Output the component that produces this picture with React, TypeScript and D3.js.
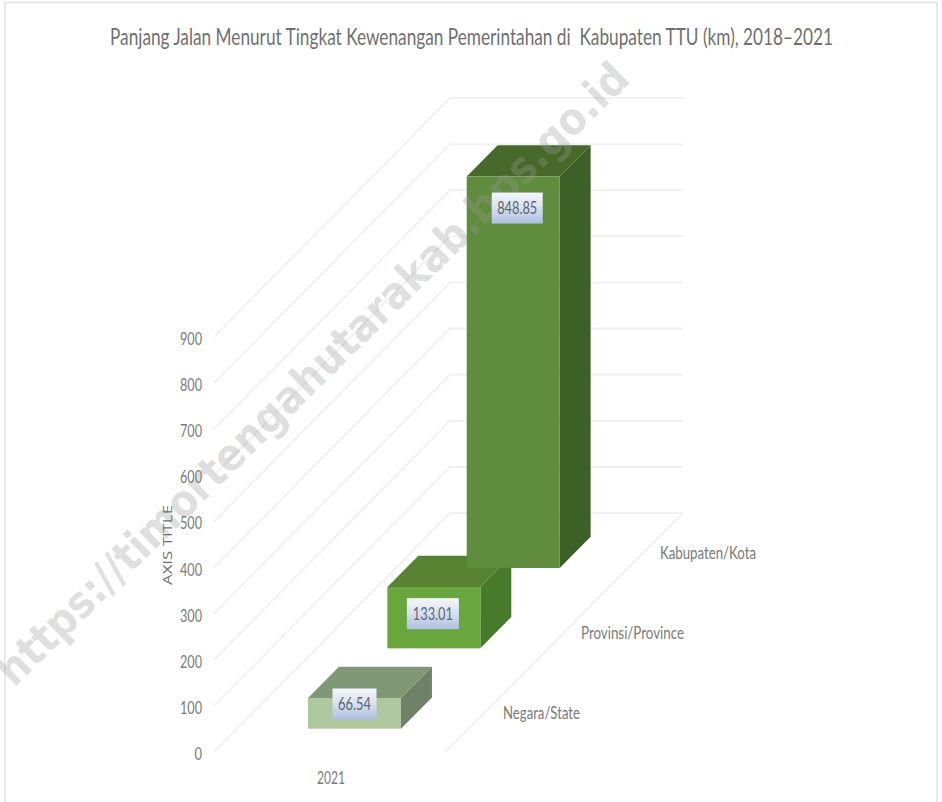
import React from "react";
import * as d3 from "d3";

const TITLE = "Panjang Jalan Menurut Tingkat Kewenangan Pemerintahan di  Kabupaten TTU (km), 2018–2021";
const WATERMARK = "https://timortengahutarakab.bps.go.id";
const AXIS_TITLE = "AXIS TITLE";
const CATEGORY = "2021";
const seriesNames = ["Negara/State", "Provinsi/Province", "Kabupaten/Kota"];
const seriesValues = [66.54, 133.01, 848.85];
const seriesLabels = ["66.54", "133.01", "848.85"];
const frontColors = ["#afc79f", "#69a63c", "#5e8c3c"];
const topColors = ["#7f9875", "#568231", "#466a2c"];
const sideColors = ["#6d8266", "#467a2c", "#3c6128"];
const yTicks = [0, 100, 200, 300, 400, 500, 600, 700, 800, 900];

const FONT = "Lato,'Open Sans',sans-serif";

export default function App() {
  const y = d3.scaleLinear().domain([0, 900]).range([0, 415]);
  const depth = d3.scaleLinear().domain([0, 1]).range([0, 236]);
  const yBase = 752;
  const xLeft = 214;
  const wallWidth = 233;
  const barDepth = 0.131;
  const barFront = d3.scaleLinear().domain([0, 2]).range([0.0975, 0.77]);
  const barW = 93;
  const barInset = 71;
  const px = (d: number) => depth(d);
  const py = (d: number) => depth(d) * 1.0126;
  const line = d3.line();
  const labelDx = [0, -1, 4];
  const labelDy = [6, -4, 31.5];
  const labelW = [44, 52, 51];
  const labelTextW = [33, 40, 40];

  return (
    <svg width={942} height={802} style={{ position: "absolute", left: 0, top: 0, background: "#fff" }}>
      <defs>
        <linearGradient id="lab" x1="0" y1="0" x2="0" y2="1">
          <stop offset="0" stopColor="#f4f6fb" />
          <stop offset="0.45" stopColor="#dbe2f0" />
          <stop offset="1" stopColor="#aebfe0" />
        </linearGradient>
        <filter id="soft" x="-5%" y="-5%" width="110%" height="110%">
          <feGaussianBlur stdDeviation="0.5" />
        </filter>
      </defs>

      <path d="M5,802 V2.5 H937 V802" fill="none" stroke="#e2e2e2" strokeWidth={1.5} />

      <text x={110} y={45} fontSize={23} fill="#6f6f6f" fontFamily={FONT} textLength={723} lengthAdjust="spacingAndGlyphs" style={{ whiteSpace: "pre" }}>{TITLE}</text>

      <g stroke="#f1f1f1" strokeWidth={2} fill="none" filter="url(#soft)">
        {yTicks.map((t) => (
          <path key={t} d={line([
            [xLeft, yBase - y(t)],
            [xLeft + px(1), yBase - y(t) - py(1)],
            [xLeft + px(1) + wallWidth, yBase - y(t) - py(1)],
          ]) ?? ""} />
        ))}
        <path d={line([
          [xLeft + wallWidth - 2, yBase],
          [xLeft + wallWidth + px(1), yBase - py(1)],
        ]) ?? ""} />
      </g>

      <g filter="url(#soft)">
        {seriesValues.map((v, i) => {
          const d0 = barFront(i);
          const x0 = xLeft + barInset + px(d0);
          const b = yBase - py(d0);
          const t = b - y(v);
          const dx = px(barDepth);
          const dy = py(barDepth);
          return (
            <g key={seriesNames[i]}>
              <polygon fill={topColors[i]} points={[[x0, t], [x0 + dx, t - dy], [x0 + barW + dx, t - dy], [x0 + barW, t]].join(" ")} />
              <polygon fill={sideColors[i]} points={[[x0 + barW, t], [x0 + barW + dx, t - dy], [x0 + barW + dx, b - dy], [x0 + barW, b]].join(" ")} />
              <rect x={x0} y={t} width={barW} height={b - t} fill={frontColors[i]} />
            </g>
          );
        })}
      </g>

      <text transform="translate(14,688) rotate(-44.5)" fontSize={44} fontWeight={700} fill="#999" fillOpacity={0.33} fontFamily="'DejaVu Sans',sans-serif" textLength={866} lengthAdjust="spacingAndGlyphs">{WATERMARK}</text>

      {seriesValues.map((v, i) => {
        const d0 = barFront(i);
        const x0 = xLeft + barInset + px(d0);
        const b = yBase - py(d0);
        const t = b - y(v);
        const cx = x0 + barW / 2 + labelDx[i];
        const cy = i === 1 ? (t + b) / 2 + labelDy[i] : t + labelDy[i];
        const w = labelW[i];
        return (
          <g key={seriesLabels[i]}>
            <rect x={cx - w / 2} y={cy - 15.5} width={w} height={31} fill="url(#lab)" />
            <text x={cx} y={cy + 6} fontSize={17} fill="#5f6470" textAnchor="middle" fontFamily={FONT} textLength={labelTextW[i]} lengthAdjust="spacingAndGlyphs">{seriesLabels[i]}</text>
          </g>
        );
      })}

      {yTicks.map((t) => (
        <text key={t} x={202} y={yBase - y(t) + 8} fontSize={17} fill="#7a7a7a" textAnchor="end" fontFamily={FONT} textLength={t === 0 ? 7.5 : 22} lengthAdjust="spacingAndGlyphs">{t}</text>
      ))}

      <text transform="translate(172,545) rotate(-90)" fontSize={13} fill="#6f6f6f" textAnchor="middle" fontFamily="'Open Sans',sans-serif" textLength={80} lengthAdjust="spacingAndGlyphs">{AXIS_TITLE}</text>
      <text x={331} y={784} fontSize={17} fill="#7a7a7a" textAnchor="middle" fontFamily={FONT} textLength={28} lengthAdjust="spacingAndGlyphs">{CATEGORY}</text>

      {seriesNames.map((n, i) => (
        <text key={n} x={[503, 581, 660][i]} y={[719, 639, 559][i]} fontSize={17} fill="#7a7a7a" fontFamily={FONT} textLength={[77, 103, 96][i]} lengthAdjust="spacingAndGlyphs">{n}</text>
      ))}
    </svg>
  );
}
